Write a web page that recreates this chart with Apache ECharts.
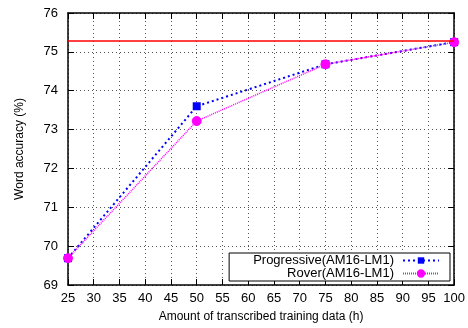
<!DOCTYPE html>
<html><head><meta charset="utf-8">
<script src="https://cdn.jsdelivr.net/npm/echarts@6/dist/echarts.min.js"></script>
<style>html,body{margin:0;padding:0;background:#fff}#c{width:468px;height:328px}</style>
</head><body><div id="c"></div>
<script>
const xValues = [25, 50, 75, 100];
const progressive = [69.69, 73.6, 74.68, 75.25];
const rover = [69.69, 73.22, 74.68, 75.25];
const referenceLine = 75.29;
const seriesNames = ['Progressive(AM16-LM1)', 'Rover(AM16-LM1)'];
const xTitle = 'Amount of transcribed training data (h)';
const yTitle = 'Word accuracy (%)';

const font = 'Liberation Sans, Arial, sans-serif';
const chart = echarts.init(document.getElementById('c'));
const gridLine = {show: true, lineStyle: {color: '#555', type: [1, 3], width: 1}};
chart.setOption({
  animation: false,
  grid: {left: 68, right: 10, top: 13, bottom: 41},
  xAxis: [{
    type: 'value', min: 25, max: 100, interval: 5,
    name: xTitle, nameLocation: 'middle', nameGap: 26,
    nameTextStyle: {color: '#000', fontSize: 12, fontFamily: font},
    axisLine: {lineStyle: {color: '#000', width: 1.5}},
    axisTick: {inside: true, length: 6, lineStyle: {color: '#000'}},
    axisLabel: {color: '#000', fontSize: 13, fontFamily: font, margin: 7},
    splitLine: gridLine
  }, {
    type: 'value', min: 25, max: 100, interval: 5, position: 'top',
    axisLine: {lineStyle: {color: '#000', width: 1.5}},
    axisTick: {inside: true, length: 6, lineStyle: {color: '#000'}},
    axisLabel: {show: false}, splitLine: {show: false}
  }],
  yAxis: [{
    type: 'value', min: 69, max: 76, interval: 1,
    name: yTitle, nameLocation: 'middle', nameGap: 42, nameRotate: 90,
    nameTextStyle: {color: '#000', fontSize: 12, fontFamily: font},
    axisLine: {lineStyle: {color: '#000', width: 1.5}},
    axisTick: {inside: true, length: 6, lineStyle: {color: '#000'}},
    axisLabel: {color: '#000', fontSize: 13, fontFamily: font, margin: 10},
    splitLine: gridLine
  }, {
    type: 'value', min: 69, max: 76, interval: 1, position: 'right',
    axisLine: {lineStyle: {color: '#000', width: 1.5}},
    axisTick: {inside: true, length: 6, lineStyle: {color: '#000'}},
    axisLabel: {show: false}, splitLine: {show: false}
  }],
  legend: {
    orient: 'vertical', align: 'right', right: 18, bottom: 47,
    itemWidth: 36, itemHeight: 8, itemGap: 0,
    borderColor: '#000', borderWidth: 1, borderRadius: 0,
    padding: [1, 10, 1, 24], backgroundColor: '#fff',
    textStyle: {color: '#000', fontSize: 13, fontFamily: font, padding: [0, 4, 0, 0]},
    data: seriesNames
  },
  series: [{
    name: 'ref', type: 'line', data: [], silent: true,
    markLine: {symbol: 'none', silent: true, label: {show: false},
      lineStyle: {color: '#ff0000', width: 1.5, type: 'solid'},
      data: [{yAxis: referenceLine}]}
  }, {
    name: seriesNames[0], type: 'line',
    data: xValues.map((x, i) => [x, progressive[i]]),
    symbol: 'rect', symbolSize: 8,
    itemStyle: {color: '#0000ff'},
    lineStyle: {color: '#0000ff', width: 2, type: [2, 3]}, z: 2
  }, {
    name: seriesNames[1], type: 'line',
    data: xValues.map((x, i) => [x, rover[i]]),
    symbol: 'circle', symbolSize: 9,
    itemStyle: {color: '#ff00ff', borderColor: '#ff00ff', borderWidth: 1},
    lineStyle: {color: '#ff00ff', width: 1.5, type: [1, 1]}, z: 3
  }]
});
</script></body></html>
